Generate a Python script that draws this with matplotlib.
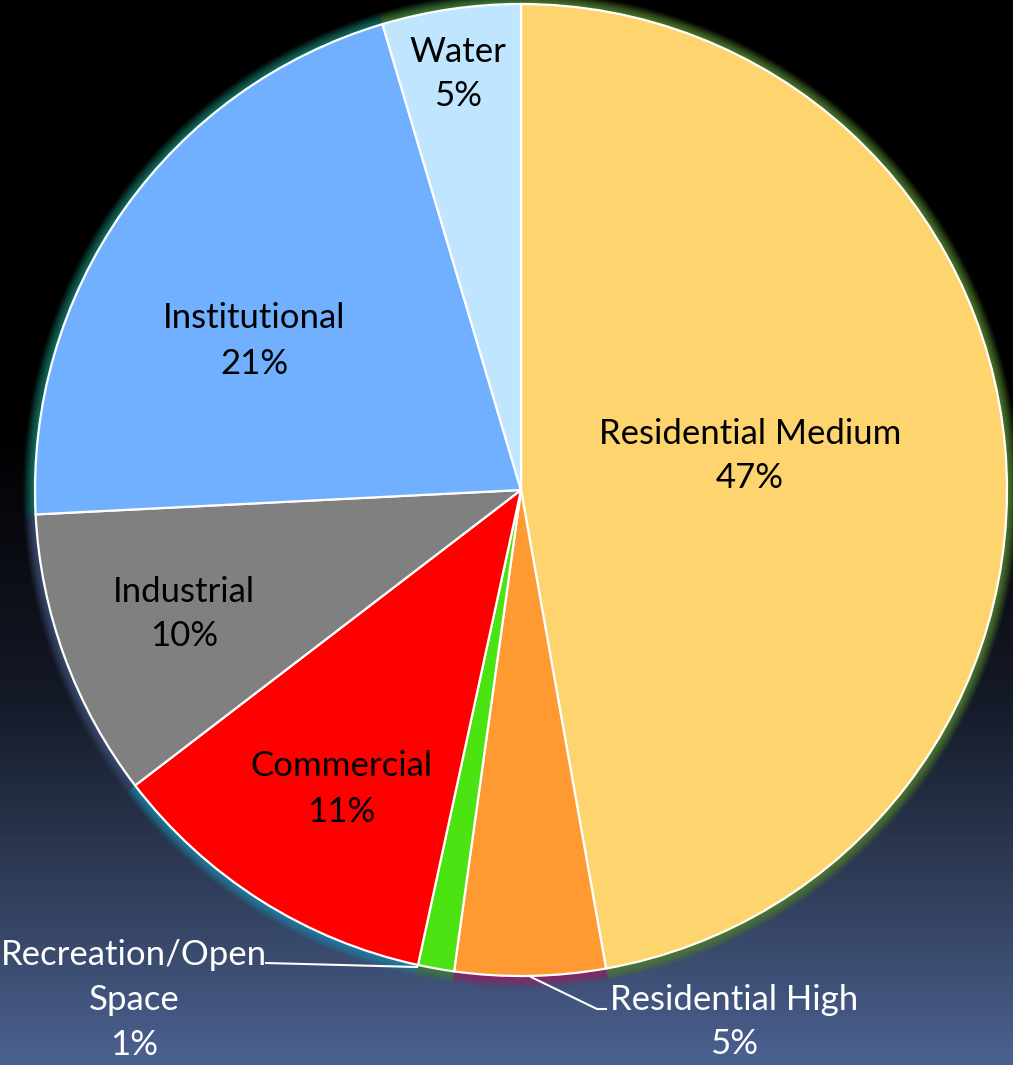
import numpy as np
import matplotlib
matplotlib.use("Agg")
import matplotlib.pyplot as plt
from matplotlib.patches import Wedge
from matplotlib.colors import LinearSegmentedColormap

categories = ["Residential Medium", "Residential High", "Recreation/Open\nSpace",
              "Commercial", "Industrial", "Institutional", "Water"]
values = [47.2, 5.0, 1.2, 11.2, 9.6, 21.2, 4.6]
colors = ["#FED46E", "#FF9A33", "#4CE312", "#FF0000", "#808080", "#71B0FF", "#C0E6FF"]
glow_colors = ["#4E7A2C", "#8A2466", "#3E7A3A", "#1E7DA0", "#3A4C70", "#137060", "#3E7C3A"]

W, H = 1013, 1065
cx, cy, R = 521, 490, 486
fig = plt.figure(figsize=(W / 100, H / 100), dpi=100)
ax = fig.add_axes([0, 0, 1, 1])
x0, x1 = -cx / R, (W - cx) / R
y0, y1 = -(H - cy) / R, cy / R

# background gradient
bg = LinearSegmentedColormap.from_list(
    "bg", [(0.0, "#000000"), (0.40, "#000000"), (0.66, "#151a28"),
           (0.85, "#33415f"), (1.0, "#4b6190")])
grad = np.linspace(0, 1, 512).reshape(-1, 1)
ax.imshow(grad, cmap=bg, extent=(x0, x1, y0, y1), aspect="auto", zorder=0)

wedges, _ = ax.pie(values, colors=colors, startangle=90, counterclock=False,
                   wedgeprops=dict(edgecolor="white", linewidth=1.6, zorder=3))

# glow rings
n = 12
gw = 0.026
for w, gc in zip(wedges, glow_colors):
    for k in range(n):
        rr = 1.0 + gw * (k + 1) / n
        ax.add_patch(Wedge((0, 0), rr, w.theta1, w.theta2, width=gw / n + 0.002,
                           facecolor=gc, edgecolor="none", alpha=0.85 * (1 - k / n) ** 1.2,
                           zorder=2))

def px(x, y):
    return ((x - cx) / R, (cy - y) / R)

fs = 25
ls = 1.5
font = "Lato"
pcts = ["%.0f%%" % v for v in values]
inside = {0: (750, 456), 3: (341, 789), 4: (184, 614), 5: (254, 341), 6: (458, 74)}
for i, (x, y) in inside.items():
    ax.text(*px(x, y), categories[i] + "\n" + pcts[i], ha="center", va="center",
            fontsize=fs, family=font, color="black", linespacing=ls, zorder=5)

ax.text(*px(134, 1000), categories[2] + "\n" + pcts[2], ha="center", va="center",
        fontsize=fs, family=font, color="white", linespacing=ls, zorder=5)
ax.text(*px(734, 1022), categories[1] + "\n" + pcts[1], ha="center", va="center",
        fontsize=fs, family=font, color="white", linespacing=ls, zorder=5)

# leader lines
lx, ly = zip(px(266, 963), px(417, 967))
ax.plot(lx, ly, color="white", lw=1.5, zorder=4)
lx, ly = zip(px(531, 977), px(597, 1009), px(606, 1009))
ax.plot(lx, ly, color="white", lw=1.5, zorder=4)

ax.set_xlim(x0, x1)
ax.set_ylim(y0, y1)
ax.set_aspect("auto")
ax.axis("off")
fig.savefig("out.png", dpi=100)
